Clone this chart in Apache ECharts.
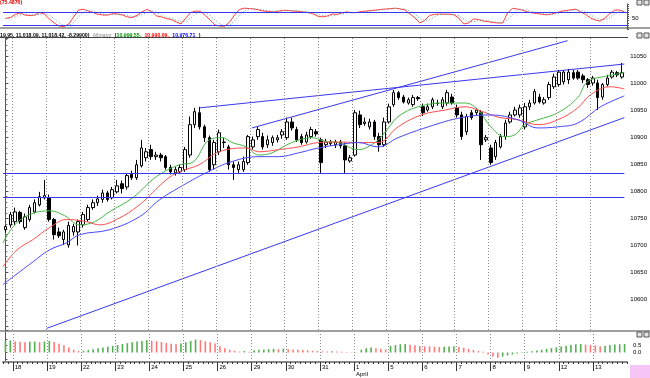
<!DOCTYPE html>
<html><head><meta charset="utf-8">
<script src="https://cdn.jsdelivr.net/npm/echarts@6/dist/echarts.min.js"></script>
<style>html,body{margin:0;padding:0;background:#fff}#c{width:650px;height:378px}</style>
</head><body><div id="c"></div>
<script>
// hourly bars, 17 Mar - 13 Apr
var days = ['17','18','19','22','23','24','25','26','29','30','31','1','5','6','7','8','9','12','13'];
var barsPerDay = [2,7,7,7,7,7,7,7,7,7,7,7,7,7,7,7,7,7,7];

var opens = [10729,10738,10744,10761,10733,10748,10762,10775,10788,10788,
  10748,10725,10711,10701,10725,10725,10738,10748,10770,10779,
  10785,10797,10788,10799,10814,10808,10831,10825,10847,10862,
  10877,10864,10867,10864,10844,10834,10836,10840,10867,10923,
  10945,10919,10899,10849,10873,10891,10882,10849,10840,10840,
  10853,10882,10901,10901,10886,10890,10895,10904,10899,10928,
  10914,10901,10891,10901,10910,10895,10886,10888,10886,10891,
  10884,10856,10867,10941,10925,10919,10928,10901,10886,10928,
  10960,10982,10974,10963,10960,10973,10956,10950,10956,10962,
  10956,10963,10974,10954,10941,10910,10945,10945,10945,10895,
  10880,10864,10882,10901,10928,10941,10941,10919,10956,10963,
  10974,10963,10973,10993,10997,11002,11006,11019,11020,11013,
  11006,11000,11000,10974,10997,11011,11019,11011];
var closes = [10735,10757,10762,10744,10753,10770,10779,10790,10792,10748,
  10720,10718,10725,10737,10735,10744,10757,10770,10779,10786,
  10797,10785,10803,10810,10805,10829,10825,10849,10880,10873,
  10864,10867,10862,10844,10836,10840,10844,10877,10923,10947,
  10919,10899,10840,10890,10908,10890,10849,10844,10849,10855,
  10901,10895,10914,10882,10895,10899,10899,10910,10928,10917,
  10895,10890,10904,10914,10906,10853,10891,10891,10891,10884,
  10858,10862,10945,10923,10928,10928,10901,10886,10928,10956,
  10982,10973,10965,10969,10973,10971,10945,10956,10969,10963,
  10969,10982,10963,10941,10901,10938,10936,10950,10886,10899,
  10853,10890,10901,10926,10941,10950,10954,10956,10963,10984,
  10965,10969,10997,11011,11020,11020,11020,11009,11009,11006,
  10997,11009,10973,10997,11009,11020,11015,11019];
var highs = [10738,10762,10770,10764,10759,10775,10785,10799,10821,10794,
  10751,10733,10729,10744,10740,10748,10762,10775,10785,10792,
  10803,10801,10808,10821,10820,10832,10838,10858,10895,10880,
  10886,10873,10871,10867,10849,10845,10849,10882,10938,10954,
  10956,10923,10903,10895,10914,10899,10886,10855,10855,10864,
  10904,10901,10919,10908,10903,10903,10904,10915,10936,10936,
  10919,10906,10910,10919,10915,10899,10897,10895,10895,10895,
  10890,10867,10950,10949,10936,10934,10932,10908,10936,10962,
  10987,10985,10978,10973,10978,10976,10962,10962,10973,10969,
  10974,10987,10980,10960,10947,10943,10950,10954,10950,10904,
  10886,10895,10906,10932,10947,10956,10960,10963,10969,10989,
  10980,10974,11002,11017,11024,11024,11026,11024,11024,11017,
  11009,11013,11006,11000,11015,11024,11022,11037];
var lows = [10724,10733,10738,10740,10729,10744,10759,10772,10785,10744,
  10711,10714,10701,10696,10718,10700,10733,10744,10766,10773,
  10779,10781,10785,10796,10796,10803,10821,10821,10844,10855,
  10858,10858,10855,10840,10831,10829,10832,10836,10862,10917,
  10914,10891,10836,10840,10867,10880,10840,10821,10834,10836,
  10849,10877,10895,10877,10880,10884,10890,10897,10895,10912,
  10891,10886,10888,10897,10901,10834,10880,10884,10880,10879,
  10834,10853,10864,10917,10921,10914,10895,10873,10882,10925,
  10956,10969,10962,10960,10956,10967,10939,10947,10952,10958,
  10952,10958,10960,10936,10895,10904,10932,10941,10858,10891,
  10849,10858,10879,10895,10925,10938,10936,10914,10950,10960,
  10962,10960,10969,10989,10993,10997,10998,11006,11006,11000,
  10991,10995,10950,10969,10993,11008,11011,11008];

var stochK = [51,55,70,77,67,64,67,79,72,48, 29,14,12,24,58,91,95,86,79,70,
  67,67,74,72,67,58,55,66,82,94, 84,63,58,50,46,34,24,53,79,86,
  85,65,43,19,14,14,34,67,94,100, 98,96,91,86,84,82,86,90,89,86,
  85,82,79,74,62,58,62,72,70,77, 82,78,79,84,86,89,91,94,96,98,
  100,96,91,72,53,29,41,65,70,72, 71,71,68,53,24,29,48,46,38,35,
  31,29,29,77,99,96,91,82,78,74, 71,68,72,78,85,89,92,95,82,70,
  53,43,38,53,74,91,91,82];
var stochD = [50,52,59,67,71,69,66,70,73,66, 50,30,18,17,31,58,81,91,87,78,
  72,68,69,71,71,66,60,60,68,81, 87,80,68,57,51,43,35,37,52,73,
  83,79,64,42,25,16,21,38,65,87, 97,98,95,91,87,84,84,86,88,88,
  87,84,82,78,72,65,61,64,68,73, 76,79,80,80,83,86,89,91,94,96,
  98,98,96,86,72,51,41,45,59,69, 71,71,70,64,48,35,34,41,44,40,
  35,32,30,45,68,91,95,90,84,78, 74,71,70,73,78,84,89,92,90,82,
  68,55,45,45,55,73,85,88];
var stochLevels = [80, 20];

var histVals = [0.82,0.88,0.8,0.78,0.75,0.78,0.8,0.76,0.8,0.84,
  0.76,0.64,0.52,0.36,0.2,0.1,0.12,0.18,0.24,0.3,
  0.36,0.42,0.48,0.55,0.62,0.68,0.74,0.8,0.84,0.9,
  0.86,0.82,0.76,0.7,0.64,0.6,0.66,0.74,0.85,0.95,
  0.9,0.82,0.74,0.66,0.45,0.3,0.2,0.12,0.06,0.1,
  0.06,0.16,0.2,0.22,0.24,0.26,0.24,0.28,0.24,0.22,
  0.2,0.18,0.15,0.12,0.1,0.08,0.07,0.09,0.07,0.05,
  0.04,0.03,0.02,0.2,0.3,0.36,0.3,0.26,0.22,0.48,
  0.55,0.6,0.62,0.56,0.52,0.48,0.45,0.44,0.42,0.4,
  0.42,0.44,0.46,0.4,0.34,0.26,0.18,0.1,0.05,-0.15,
  -0.3,-0.38,-0.3,-0.22,-0.15,-0.08,-0.04,0.05,0.08,0.14,
  0.2,0.26,0.32,0.38,0.44,0.5,0.55,0.6,0.62,0.58,
  0.55,0.5,0.46,0.5,0.54,0.58,0.6,0.62];

// Alligator lines: [bar index, price]
var lipsPts = [[-0.5,10705],[3,10747],[9.1,10764],[12.2,10755],[15.3,10738],[18.4,10744],[21.4,10762],[26.2,10788],[31.1,10827],[35.8,10849],[38.5,10853],[42,10895],[44.6,10899],[46.7,10890],[49.6,10882],[52.2,10867],[54.9,10871],[59,10890],[63.1,10899],[65.9,10892],[68.6,10890],[72.7,10877],[74.2,10880],[76.8,10895],[78.9,10917],[80.9,10938],[85,10956],[90.6,10963],[94.7,10963],[97.4,10950],[100,10919],[102.9,10901],[104.9,10904],[107,10923],[109.7,10932],[113.8,10945],[117.9,10973],[119.9,11002],[124,11013],[127.5,11019]];
var teethPts = [[-0.5,10661],[2.4,10692],[5.7,10711],[9.1,10733],[12.6,10748],[16.7,10744],[19.4,10738],[22.9,10748],[27.6,10775],[33.1,10821],[35.8,10836],[39.9,10849],[44,10873],[49.6,10880],[52.2,10873],[56.3,10877],[60.4,10882],[64.5,10890],[68.6,10891],[72.7,10890],[76.8,10890],[80.9,10919],[85.7,10941],[90.6,10950],[94.7,10956],[97.4,10950],[101.5,10937],[105.6,10932],[109.7,10923],[113.8,10932],[117.9,10954],[120.5,10978],[124.6,10993],[127.5,10989]];
var jawPts = [[-0.5,10628],[5.7,10670],[9.1,10692],[12.6,10705],[15.3,10720],[21.4,10729],[27.6,10753],[31.7,10784],[35.8,10807],[41.3,10834],[46.7,10855],[52.2,10864],[56.3,10864],[60.4,10871],[64.5,10880],[68.6,10886],[72.7,10890],[76.8,10882],[80.9,10899],[87.1,10919],[93.9,10936],[100,10941],[105.6,10932],[109.7,10917],[113.8,10919],[117.9,10926],[122.6,10956],[127.5,10976]];

var trendLines = [
  [[40, 10954], [127.5, 11035]],
  [[50.8, 10917], [115.8, 11078]],
  [[8.5, 10547], [127.5, 10936]]
];
var levels = [10833, 10789];

var cats = [], dayEdges = [], edgeLabel = {};
days.forEach(function (d, k) {
  if (k > 0) {
    var edge = cats.length - 0.5;
    dayEdges.push(edge);
    edgeLabel[edge] = d === '1' ? '1\nApril' : d;
  }
  for (var j = 0; j < barsPerDay[k]; j++) cats.push(d + '_' + j);
});
var nBars = cats.length;

var candles = cats.map(function (c, i) {
  return [opens[i], closes[i], lows[i], highs[i]];
});

var chart = echarts.init(document.getElementById('c'));
var font = 'Liberation Sans';
var blue = '#3838f0';
var dayLines = {
  symbol: 'none', silent: true, label: {show: false},
  lineStyle: {color: '#8c8c8c', width: 1, type: [1, 2]},
  data: dayEdges.map(function (e) { return {xAxis: e}; })
};

var series = [
  {
    type: 'line', xAxisIndex: 0, yAxisIndex: 0, data: stochK, showSymbol: false,
    lineStyle: {color: '#ff4040', width: 1}, silent: true,
    markLine: {
      symbol: 'none', silent: true, label: {show: false},
      lineStyle: {color: blue, width: 1, type: 'solid'},
      data: stochLevels.map(function (v) { return {yAxis: v}; })
    }
  },
  {
    type: 'line', xAxisIndex: 0, yAxisIndex: 0, data: stochD, showSymbol: false,
    lineStyle: {color: '#6e9a9a', width: 1, type: [1, 2]}, silent: true
  },
  {type: 'line', xAxisIndex: 2, yAxisIndex: 1, data: [], markLine: dayLines},
  {
    type: 'candlestick', xAxisIndex: 1, yAxisIndex: 1, data: candles, barWidth: 3,
    itemStyle: {color: '#fff', color0: '#000', borderColor: '#000', borderColor0: '#000', borderWidth: 1},
    markLine: {
      symbol: 'none', silent: true, label: {show: false},
      lineStyle: {color: blue, width: 1, type: 'solid'},
      data: levels.map(function (v) { return {yAxis: v}; })
    }
  },
  {type: 'line', xAxisIndex: 2, yAxisIndex: 1, data: lipsPts, smooth: 0.4, showSymbol: false, lineStyle: {color: '#44b844', width: 1}},
  {type: 'line', xAxisIndex: 2, yAxisIndex: 1, data: teethPts, smooth: 0.4, showSymbol: false, lineStyle: {color: '#ff5050', width: 1}},
  {type: 'line', xAxisIndex: 2, yAxisIndex: 1, data: jawPts, smooth: 0.4, showSymbol: false, lineStyle: {color: '#4848ff', width: 1}},
  {type: 'line', xAxisIndex: 4, yAxisIndex: 2, data: [], markLine: dayLines},
  {
    type: 'bar', xAxisIndex: 3, yAxisIndex: 2, barWidth: 1.6,
    data: histVals.map(function (v, i) {
      var up = i === 0 || v >= histVals[i - 1];
      return {value: v, itemStyle: {color: up ? '#52b052' : '#ff7878'}};
    })
  }
];
trendLines.forEach(function (seg) {
  series.push({type: 'line', xAxisIndex: 2, yAxisIndex: 1, data: seg, showSymbol: false,
    lineStyle: {color: blue, width: 1}, silent: true});
});

var option = {
  animation: false,
  backgroundColor: '#fff',
  grid: [
    {left: 3, width: 624, top: 4, height: 25},
    {left: 3, width: 624, top: 38, height: 292},
    {left: 3, width: 624, top: 332, height: 31}
  ],
  xAxis: [
    {type: 'category', gridIndex: 0, data: cats, show: false},
    {type: 'category', gridIndex: 1, data: cats, show: false},
    {type: 'value', gridIndex: 1, min: -0.5, max: nBars - 0.5, show: false},
    {type: 'category', gridIndex: 2, data: cats, show: false},
    {type: 'value', gridIndex: 2, position: 'bottom', min: -0.5, max: nBars - 0.5, interval: 1,
      axisLine: {onZero: false, lineStyle: {color: '#8a8a8a', width: 2}},
      axisTick: {length: 2, lineStyle: {color: '#333'}},
      axisLabel: {show: false}, splitLine: {show: false}},
    {type: 'value', gridIndex: 2, position: 'bottom', min: -0.5, max: nBars - 0.5,
      axisLine: {show: false, onZero: false},
      axisTick: {show: true, customValues: dayEdges, length: 9, lineStyle: {color: '#333'}},
      axisLabel: {
        customValues: dayEdges,
        formatter: function (v) { return edgeLabel[v] || ''; },
        align: 'left', margin: 2, padding: [0, 0, 0, 2], fontSize: 6, fontFamily: font, color: '#000', lineHeight: 7
      },
      splitLine: {show: false}}
  ],
  yAxis: [
    {type: 'value', gridIndex: 0, position: 'right', min: 0, max: 120, interval: 10,
      axisLine: {show: true, lineStyle: {color: '#555'}},
      axisTick: {show: true, length: 2, lineStyle: {color: '#555'}},
      axisLabel: {fontSize: 6, fontFamily: font, color: '#000', margin: 5,
        formatter: function (v) { return v === 50 ? '50' : ''; }},
      splitLine: {show: false}},
    {type: 'value', gridIndex: 1, position: 'right', min: 10544, max: 11083, splitNumber: 10,
      axisLine: {show: true, lineStyle: {color: '#555'}},
      axisTick: {show: true, length: 3, lineStyle: {color: '#555'}},
      minorTick: {show: true, splitNumber: 5, length: 2, lineStyle: {color: '#777'}},
      axisLabel: {fontSize: 6, fontFamily: font, color: '#000', margin: 6, showMinLabel: false, showMaxLabel: false,
        formatter: function (v) { return v < 10600 ? '' : String(v); }},
      splitLine: {show: false}},
    {type: 'value', gridIndex: 2, position: 'right', min: -0.7, max: 1.5, splitNumber: 4,
      axisLine: {show: true, lineStyle: {color: '#555'}},
      axisTick: {show: true, length: 2, lineStyle: {color: '#555'}},
      axisLabel: {fontSize: 6, fontFamily: font, color: '#000', margin: 6, showMinLabel: false, showMaxLabel: false,
        formatter: function (v) { return v === 0 ? '0.0' : (v === 0.5 ? '0.5' : ''); }},
      splitLine: {show: false}}
  ],
  graphic: [
    {type: 'rect', shape: {x: 0, y: 27, width: 650, height: 2}, style: {fill: '#a0a0a0'}, silent: true},
    {type: 'rect', shape: {x: 0, y: 37, width: 628, height: 1}, style: {fill: '#444'}, silent: true},
    {type: 'rect', shape: {x: 0, y: 330, width: 650, height: 2}, style: {fill: '#a0a0a0'}, silent: true},
    {type: 'rect', shape: {x: 630, y: 365, width: 20, height: 13}, style: {fill: '#f7c6f7'}, silent: true},
    {type: 'text', left: 0, top: 0, style: {text: '(75.4876)', fill: '#e00000', font: 'bold 5.2px ' + font}},
    {type: 'text', left: 0, top: 30, style: {
      text: '{k|19.95, 11,018.09, 11,018.42, -8.29900)} {g|Alligator} {k|(}{gr|10,999.55,} {r|10,990.09,} {b|10,976.71} {k|)}',
      rich: {
        k: {fill: '#000', font: 'bold 5.2px ' + font},
        g: {fill: '#8a8a8a', font: '5.2px ' + font},
        gr: {fill: '#009000', font: 'bold 5.2px ' + font},
        r: {fill: '#ff0000', font: 'bold 5.2px ' + font},
        b: {fill: '#0000ff', font: 'bold 5.2px ' + font}
      }}}
  ].concat([0, 33, 332].map(function (y) {
    return {type: 'group', children: [
      {type: 'rect', shape: {x: 637, y: y, width: 5, height: 5}, style: {fill: '#e4e4e4', stroke: '#555', lineWidth: 1}},
      {type: 'rect', shape: {x: 644, y: y, width: 5, height: 5}, style: {fill: '#e4e4e4', stroke: '#555', lineWidth: 1}}
    ]};
  })),
  series: series
};
chart.setOption(option);
</script>
</body></html>
